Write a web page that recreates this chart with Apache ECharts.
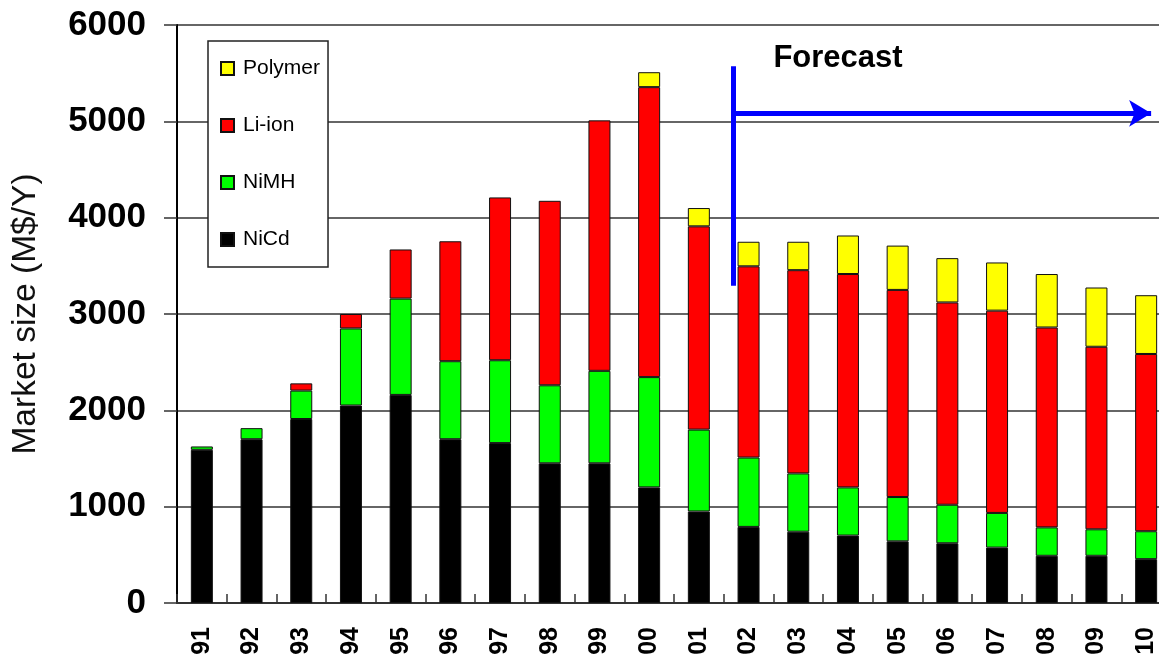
<!DOCTYPE html>
<html>
<head>
<meta charset="utf-8">
<script src="https://cdn.jsdelivr.net/npm/echarts@6/dist/echarts.min.js"></script>
<style>
html,body{margin:0;padding:0;background:#fff;overflow:hidden;}
#chart{width:1159px;height:659px;}
</style>
</head>
<body>
<div id="chart"></div>
<script>
const years = ['91','92','93','94','95','96','97','98','99','00','01','02','03','04','05','06','07','08','09','10'];
const nicd    = [1590,1700,1910,2050,2160,1700,1660,1450,1450,1200,950,790,740,700,640,620,575,490,490,455];
const nimh    = [35,115,295,800,1000,810,860,810,960,1145,850,720,605,500,460,400,360,295,275,290];
const liion   = [null,null,75,150,510,1245,1690,1915,2600,3010,2110,1985,2110,2215,2150,2100,2100,2075,1895,1840];
const polymer = [null,null,null,null,null,null,null,null,null,155,190,255,295,400,460,460,500,555,615,610];
const yTicks = [0,1000,2000,3000,4000,5000,6000];
// forecast annotation (category position, value)
const forecastX = 10.69;
const forecastVLine = [5573, 3292];
const forecastArrowY = 5083;
const forecastArrowEnd = 19.1;
const forecastLabel = [11.5, 5656];

const FONT = 'Arial, "Liberation Sans", sans-serif';
const chart = echarts.init(document.getElementById('chart'), null, {renderer:'canvas'});
const border = {borderColor:'#111', borderWidth:1};
function barSeries(name, data, color){
  return {name, type:'bar', stack:'total', data, barWidth:22,
    itemStyle:Object.assign({color}, border), emphasis:{disabled:true}};
}
chart.setOption({
  animation:false,
  backgroundColor:'#fff',
  textStyle:{fontFamily:FONT},
  grid:{left:177, top:25, width:994, bottom:56, containLabel:false, outerBoundsMode:'none'},
  legend:{
    orient:'vertical', left:208, top:41,
    data:['Polymer','Li-ion','NiMH','NiCd'],
    itemWidth:13, itemHeight:13, itemGap:36,
    padding:[17,8,17,12],
    backgroundColor:'#fff', borderColor:'#222', borderWidth:1.5, borderRadius:0,
    icon:'rect',
    textStyle:{fontFamily:FONT, fontSize:21, color:'#000', padding:[0,0,0,4]},
    selectedMode:false
  },
  xAxis:[{
    type:'category', data:years, boundaryGap:true,
    axisLine:{lineStyle:{color:'#333', width:2}},
    axisTick:{show:true, inside:true, length:9, interval:0, lineStyle:{color:'#333', width:1.5}},
    axisLabel:{rotate:90, interval:0, margin:24, fontFamily:FONT, fontSize:25, fontWeight:'bold', color:'#000'}
  },{
    type:'value', min:-0.5, max:19.5, show:false
  }],
  yAxis:{
    type:'value', min:yTicks[0], max:yTicks[yTicks.length-1], interval:1000,
    name:'Market size (M$/Y)', nameLocation:'middle', nameGap:134,
    nameTextStyle:{fontFamily:FONT, fontSize:33.5, color:'#111'},
    axisLine:{show:true, onZero:false, lineStyle:{color:'#000', width:2}},
    axisTick:{show:true, length:13, lineStyle:{color:'#333', width:1.5}},
    axisLabel:{margin:31, fontFamily:FONT, fontSize:35, fontWeight:'bold', color:'#000',
      formatter:function(v){return String(v);}},
    splitLine:{show:true, lineStyle:{color:'#333', width:1.5}}
  },
  series:[
    barSeries('NiCd', nicd, '#000000'),
    barSeries('NiMH', nimh, '#00ff00'),
    barSeries('Li-ion', liion, '#ff0000'),
    barSeries('Polymer', polymer, '#ffff00'),
    {
      name:'forecast', type:'line', xAxisIndex:1, data:[], silent:true,
      markLine:{
        silent:true, animation:false,
        label:{show:false},
        lineStyle:{color:'#0000ff', width:5, type:'solid'},
        emphasis:{disabled:true},
        data:[
          [{coord:[forecastX, forecastVLine[0]], symbol:'none'},{coord:[forecastX, forecastVLine[1]], symbol:'none'}],
          [{coord:[forecastX, forecastArrowY], symbol:'none'},{coord:[forecastArrowEnd, forecastArrowY], symbol:'arrow', symbolSize:[20,22]}]
        ]
      },
      markPoint:{
        silent:true, symbol:'circle', symbolSize:0,
        label:{show:true, formatter:'Forecast', position:'right', distance:0,
          fontFamily:FONT, fontSize:31, fontWeight:'bold', color:'#000'},
        data:[{coord:forecastLabel}]
      }
    }
  ]
});
</script>
</body>
</html>
